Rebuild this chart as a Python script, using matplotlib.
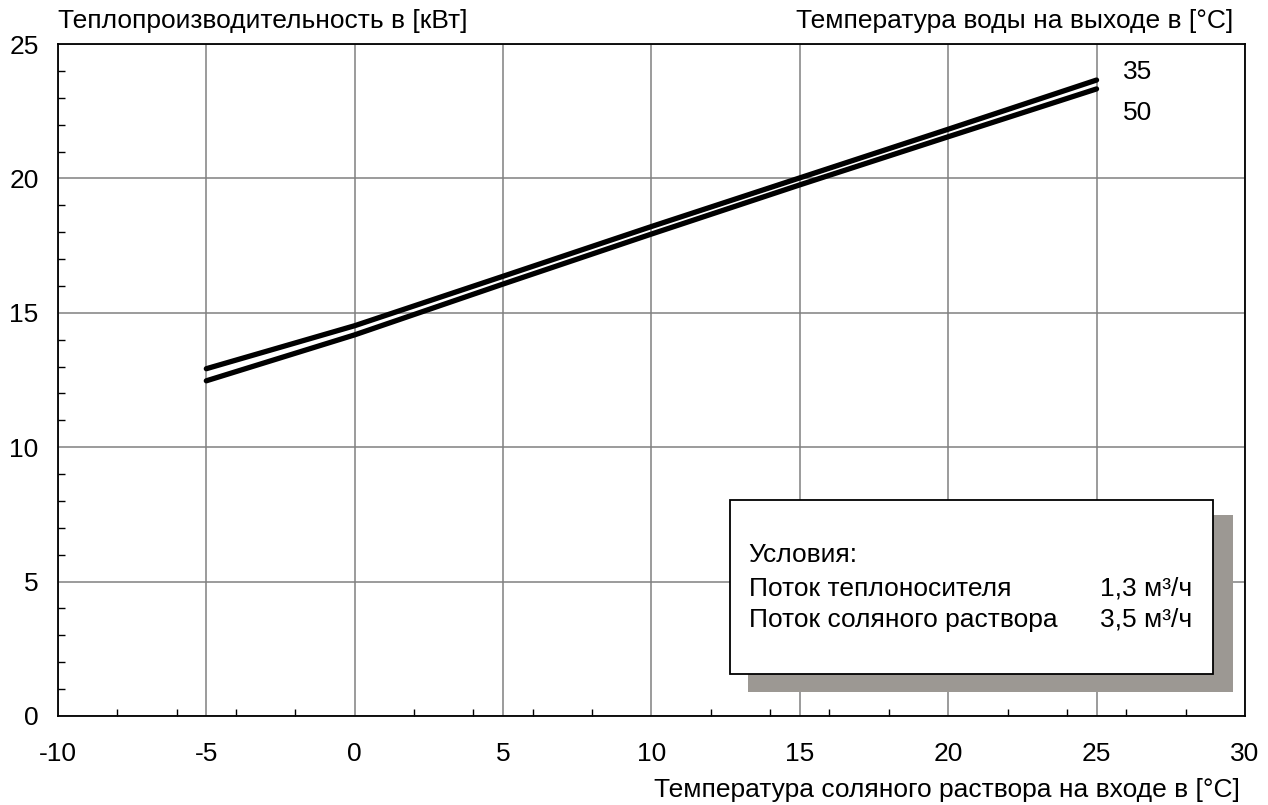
import matplotlib
matplotlib.use("Agg")
import matplotlib.pyplot as plt
from matplotlib.patches import Rectangle
from matplotlib.ticker import MultipleLocator

# brine inlet temperature [°C]
brine_temp = [-5, 0, 5, 10, 15, 20, 25]
# heat output [kW] for water outlet temperature 35 °C and 50 °C
output_35 = [12.92, 14.52, 16.36, 18.21, 20.02, 21.83, 23.66]
output_50 = [12.47, 14.18, 16.07, 17.93, 19.76, 21.55, 23.33]
curve_labels = ["35", "50"]

x_ticks = [-10, -5, 0, 5, 10, 15, 20, 25, 30]
y_ticks = [0, 5, 10, 15, 20, 25]

cond_title = "Условия:"
cond_names = ["Поток теплоносителя", "Поток соляного раствора"]
cond_values = ["1,3 м³/ч", "3,5 м³/ч"]

plt.rcParams["font.family"] = ["Liberation Sans", "DejaVu Sans"]
plt.rcParams["axes.unicode_minus"] = False
fs = 19

fig = plt.figure(figsize=(12.68, 8.05), dpi=100)
ax = fig.add_axes([0.0457, 0.1106, 0.9361, 0.8347])

for yv in [output_35, output_50]:
    ax.plot(brine_temp, yv, color="black", lw=3.8, solid_capstyle="round", zorder=3)

ax.set_xlim(-10, 30)
ax.set_ylim(0, 25)
ax.set_xticks(x_ticks)
ax.set_yticks(y_ticks)
ax.xaxis.set_minor_locator(MultipleLocator(2))
ax.yaxis.set_minor_locator(MultipleLocator(1))
ax.grid(True, which="major", color="#808080", lw=1.1, zorder=1)
ax.tick_params(which="major", direction="in", length=0, labelsize=fs)
ax.tick_params(axis="x", which="major", pad=19)
ax.tick_params(axis="y", which="major", pad=14)
ax.tick_params(which="minor", direction="in", length=5, width=1, color="black")
for sp in ax.spines.values():
    sp.set_linewidth(1.3)

# axis titles
ax.text(0.0, 1.034, "Теплопроизводительность в [кВт]", transform=ax.transAxes,
        ha="left", va="center", fontsize=fs)
ax.text(0.99, 1.034, "Температура воды на выходе в [°C]", transform=ax.transAxes,
        ha="right", va="center", fontsize=fs)
ax.text(0.9955, -0.110, "Температура соляного раствора на входе в [°C]", transform=ax.transAxes,
        ha="right", va="center", fontsize=fs)

# curve labels
ax.text(0.897, 0.958, curve_labels[0], transform=ax.transAxes, ha="left", va="center", fontsize=fs)
ax.text(0.897, 0.897, curve_labels[1], transform=ax.transAxes, ha="left", va="center", fontsize=fs)

# conditions box with shadow
ax.add_patch(Rectangle((0.581, 0.0357), 0.409, 0.2633, transform=ax.transAxes,
                       facecolor="#9c9893", edgecolor="none", zorder=4))
ax.add_patch(Rectangle((0.566, 0.0625), 0.407, 0.2585, transform=ax.transAxes,
                       facecolor="white", edgecolor="black", lw=1.3, zorder=5))
ax.text(0.582, 0.240, cond_title, transform=ax.transAxes, ha="left", va="center",
        fontsize=fs, zorder=6)
for i, (n, v) in enumerate(zip(cond_names, cond_values)):
    yy = 0.189 - i * 0.046
    ax.text(0.582, yy, n, transform=ax.transAxes, ha="left", va="center", fontsize=fs, zorder=6)
    ax.text(0.956, yy, v, transform=ax.transAxes, ha="right", va="center", fontsize=fs, zorder=6)

fig.savefig("out.png", dpi=100)
